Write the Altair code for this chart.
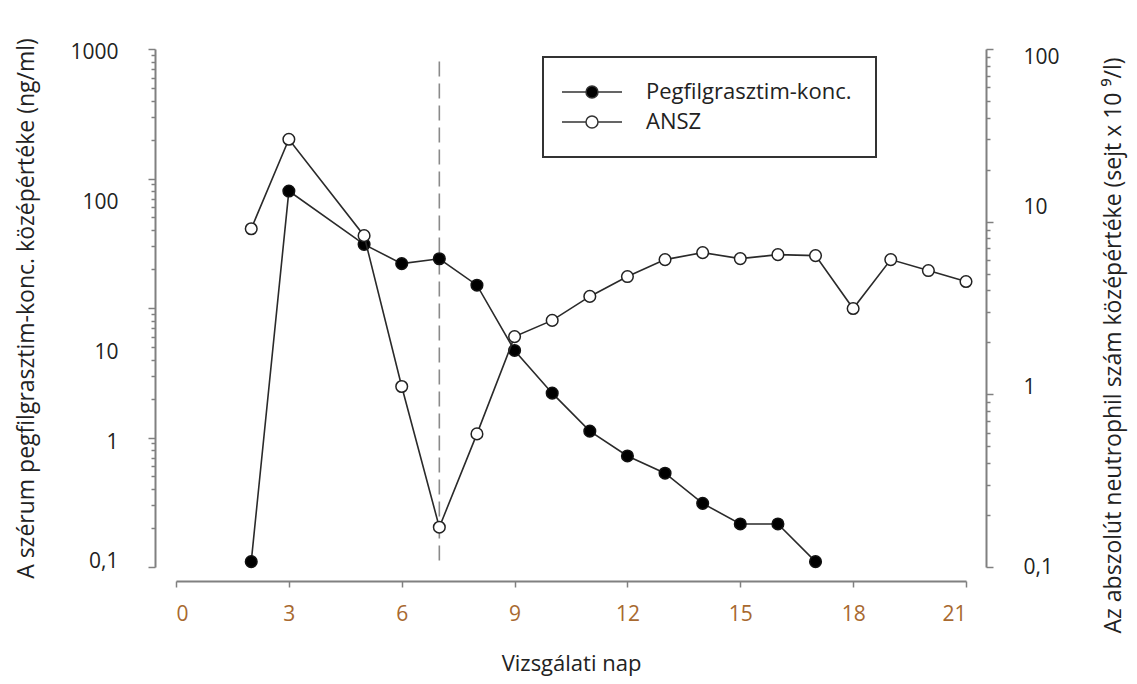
import altair as alt
import pandas as pd

# ---- data ----
days_peg = [2, 3, 5, 6, 7, 8, 9, 10, 11, 12, 13, 14, 15, 16, 17]
peg_conc = [0.11, 80, 31, 22, 24, 15, 4.7, 2.2, 1.12, 0.72, 0.53, 0.31, 0.215, 0.215, 0.11]
days_ansz = [2, 3, 5, 6, 7, 8, 9, 10, 11, 12, 13, 14, 15, 16, 17, 18, 19, 20, 21]
ansz_vals = [9.1, 30, 8.3, 1.11, 0.17, 0.59, 2.16, 2.68, 3.69, 4.81, 6.03, 6.62, 6.11, 6.44, 6.36,
             3.14, 6.03, 5.21, 4.5]
series_names = ["Pegfilgrasztim-konc.", "ANSZ"]
series_fill = ["black", "white"]
x_ticks = [0, 3, 6, 9, 12, 15, 18, 21]
marker_day = [7]
marker_top = [800]
marker_bottom = [0.1]
left_decades = [0.1, 1, 10, 100, 1000]
right_decades = [0.1, 1, 10, 100]

FONT = "Open Sans"
AXIS_GREY = "#808080"
TEXT = "#222222"


def log_ticks(decades):
    vals = []
    for d in decades[:-1]:
        for m in range(1, 10):
            vals.append(round(m * d, 6))
    vals.append(decades[-1])
    return vals


def major_test(decades):
    return "indexof([" + ",".join(str(d) for d in decades) + "], datum.value) >= 0"


label_expr = ("indexof([0.1,1,10,100,1000], datum.value) >= 0 ? "
              "(datum.value < 1 ? '0,1' : format(datum.value, 'd')) : ''")

peg_df = pd.DataFrame({"day": days_peg, "value": peg_conc, "series": series_names[0]})
ansz_df = pd.DataFrame({"day": days_ansz, "value": ansz_vals, "series": series_names[1]})
rule_df = pd.DataFrame({"day": marker_day, "top": marker_top, "bottom": marker_bottom})

x_enc = alt.X("day:Q",
              scale=alt.Scale(domain=[0, 21], nice=False),
              axis=alt.Axis(values=x_ticks, title="Vizsgálati nap", offset=14, tickSize=6,
                            labelColor="#A8692F", labelFontSize=21, labelPadding=16,
                            titlePadding=29, titleFontSize=22, grid=False))

symbol_path = "M-5,0L-1,0M1,0L5,0M1,0A1,1,0,1,1,-1,0A1,1,0,1,1,1,0Z"

fill_enc = alt.Fill("series:N",
                    scale=alt.Scale(domain=series_names, range=series_fill),
                    legend=alt.Legend(title=None, orient="none", legendX=367, legendY=8,
                                      direction="vertical", symbolType=symbol_path,
                                      symbolSize=144, symbolStrokeColor="#333333",
                                      symbolStrokeWidth=1.5, symbolOffset=14,
                                      labelOffset=43, labelFontSize=22, labelFont=FONT,
                                      labelColor=TEXT, labelLimit=400, padding=24,
                                      rowPadding=8, strokeColor="#333333",
                                      fillColor="white"))

left_axis = alt.Axis(
    orient="left", values=log_ticks(left_decades), labelExpr=label_expr,
    title="A szérum pegfilgrasztim-konc. középértéke (ng/ml)",
    offset=21, grid=False, labelFontSize=21, labelPadding=30, titlePadding=31,
    titleFontSize=23,
    tickSize={"condition": {"test": major_test(left_decades), "value": 7}, "value": 4},
    labelOffset={"condition": [
        {"test": "datum.value == 1000", "value": 3},
        {"test": "datum.value == 100", "value": 24},
        {"test": "datum.value == 10", "value": 44},
        {"test": "datum.value == 1", "value": 5},
        {"test": "datum.value == 0.1", "value": -6}], "value": 0},
)
right_axis = alt.Axis(
    orient="right", values=log_ticks(right_decades), labelExpr=label_expr,
    title="Az abszolút neutrophil szám középértéke (sejt x 10 ⁹/l)",
    offset=20, grid=False, labelFontSize=21, labelPadding=30, titlePadding=66,
    titleAngle=-90, titleFontSize=23, titleY=296,
    tickSize={"condition": {"test": major_test(right_decades), "value": 7}, "value": 4},
    labelOffset={"condition": [
        {"test": "datum.value == 100", "value": 8},
        {"test": "datum.value == 10", "value": -14},
        {"test": "datum.value == 1", "value": -7}], "value": 0},
)

y_left = alt.Y("value:Q", scale=alt.Scale(type="log", domain=[0.1, 1000], nice=False),
               axis=left_axis)
y_right = alt.Y("value:Q", scale=alt.Scale(type="log", domain=[0.1, 100], nice=False),
                axis=right_axis)

rule = alt.Chart(rule_df).mark_rule(color="#8a8a8a", strokeWidth=1.6,
                                    strokeDash=[15, 7]).encode(
    x="day:Q", y=alt.Y("top:Q"), y2="bottom:Q")

peg_line = alt.Chart(peg_df).mark_line(color="#2a2a2a", strokeWidth=1.6).encode(x=x_enc, y=y_left)
peg_pts = alt.Chart(peg_df).mark_point(shape="circle", size=135, stroke="#111111",
                                       strokeWidth=1.5, opacity=1).encode(
    x=x_enc, y=y_left, fill=fill_enc)

ansz_line = alt.Chart(ansz_df).mark_line(color="#2a2a2a", strokeWidth=1.6).encode(x=x_enc, y=y_right)
ansz_pts = alt.Chart(ansz_df).mark_point(shape="circle", size=135, stroke="#222222",
                                         strokeWidth=1.5, opacity=1).encode(
    x=x_enc, y=y_right, fill=fill_enc)

left_layer = alt.layer(peg_line, rule, peg_pts)
right_layer = alt.layer(ansz_line, ansz_pts)

chart = alt.layer(left_layer, right_layer).resolve_scale(y="independent").properties(
    width=790, height=518,
    autosize=alt.AutoSizeParams(type="none"),
    padding={"left": 168, "top": 41, "right": 163, "bottom": 109},
).configure_view(stroke=None).configure_axis(
    labelFont=FONT, titleFont=FONT, labelColor=TEXT, titleColor=TEXT,
    titleFontSize=20, titleFontWeight="normal",
    domainColor=AXIS_GREY, domainWidth=2, tickColor=AXIS_GREY, tickWidth=1.5,
).configure_legend(strokeWidth=2)

chart.save("out.html", embed_options={"renderer": "svg", "actions": False})
